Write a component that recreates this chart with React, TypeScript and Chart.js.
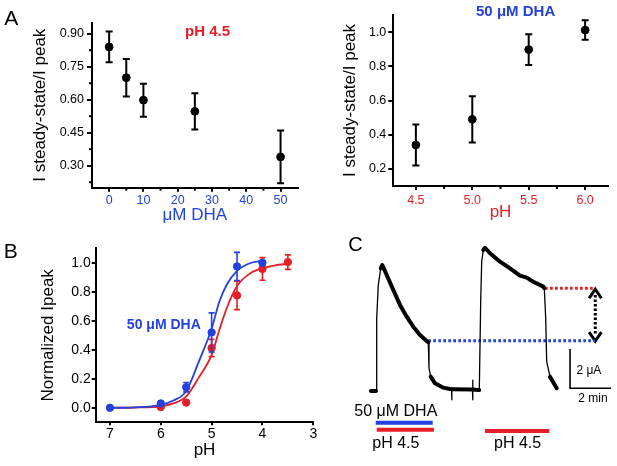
import React, { useEffect, useRef } from 'react';
import { Chart, registerables } from 'chart.js';

Chart.register(...registerables);

const FONT = "'Liberation Sans', Arial, Helvetica, sans-serif";
const BLUE = '#2340e0';
const RED = '#e61e25';
const BLACK = '#000000';

// ---------- Panel A (left): I steady-state / I peak vs DHA at pH 4.5
const DHA_UM = [0, 5, 10, 25, 50];
const RATIO_DHA = [0.84, 0.7, 0.598, 0.547, 0.34];
const RATIO_DHA_SEM = [0.07, 0.085, 0.075, 0.082, 0.12];
const DHA_TICKS = [0, 10, 20, 30, 40, 50];
const DHA_MINOR_TICKS = [5, 15, 25, 35, 45];
const RATIO_DHA_TICKS = [0.3, 0.45, 0.6, 0.75, 0.9];
const RATIO_DHA_MINOR_TICKS = [0.225, 0.375, 0.525, 0.675, 0.825];

// ---------- Panel A (right): I steady-state / I peak vs pH at 50 uM DHA
const PH_VALUES = [4.5, 5.0, 5.5, 6.0];
const RATIO_PH = [0.34, 0.49, 0.898, 1.012];
const RATIO_PH_SEM = [0.12, 0.135, 0.09, 0.057];
const PH_TICKS = [4.5, 5.0, 5.5, 6.0];
const PH_MINOR_TICKS = [4.75, 5.25, 5.75];
const RATIO_PH_TICKS = [0.2, 0.4, 0.6, 0.8, 1.0];

// ---------- Panel B: normalized Ipeak vs pH
const PH_CTRL = [6, 5.5, 5, 4.5, 4, 3.5];
const IPEAK_CTRL = [0.005, 0.036, 0.412, 0.775, 0.958, 1.005];
const IPEAK_CTRL_SEM = [0, 0, 0.06, 0.098, 0.078, 0.05];
const PH_DHA = [7, 6, 5.5, 5, 4.5, 4];
const IPEAK_DHA = [0, 0.03, 0.142, 0.52, 0.975, 1.0];
const IPEAK_DHA_SEM = [0, 0, 0.032, 0.135, 0.097, 0.012];
const FIT_PH_CTRL = [7.0, 6.5, 6.0, 5.75, 5.5, 5.25, 5.0, 4.85, 4.7, 4.5, 4.25, 4.0, 3.75, 3.5];
const FIT_CTRL = [0.0, 0.002, 0.01, 0.03, 0.078, 0.21, 0.365, 0.535, 0.69, 0.84, 0.925, 0.963, 0.983, 0.993];
const FIT_PH_DHA = [7.0, 6.5, 6.0, 5.75, 5.5, 5.25, 5.0, 4.85, 4.7, 4.5, 4.25, 4.0];
const FIT_DHA = [0.0, 0.003, 0.02, 0.05, 0.115, 0.32, 0.545, 0.73, 0.85, 0.945, 0.997, 1.015];
const PH_B_TICKS = [7, 6, 5, 4, 3];
const IPEAK_TICKS = [0, 0.2, 0.4, 0.6, 0.8, 1.0];

// ---------- Panel C: current trace (time in min, current in uA)
const TRACE_MIN = [
  0, 0.244, 0.278, 0.356, 0.473, 0.551, 0.766, 1.088, 1.415, 1.741, 2.063, 2.39, 2.717, 2.795,
  2.829, 2.912, 3.122, 3.527, 3.854, 3.93, 3.94, 3.95, 4.95, 4.955, 4.965, 4.975, 5.234, 5.283,
  5.351, 5.4, 5.478, 5.561, 5.805, 6.293, 6.78, 7.268, 7.595, 7.917, 8.405, 8.454, 8.522, 8.571,
  8.732, 9.059,
];
const TRACE_UA = [
  0, 0, 3.7, 5.39, 6.24, 6.41, 5.9, 5.14, 4.38, 3.78, 3.27, 2.85, 2.54, 2.48,
  1.16, 0.73, 0.39, 0.17, 0.1, 0.09, -0.45, 0.09, 0.07, 0.55, -0.45, 0.07, 0.05, 0.05,
  4.54, 6.58, 7.18, 7.29, 7.01, 6.58, 6.24, 5.87, 5.77, 5.56, 5.31, 5.23, 3.7, 1.49,
  0.73, 0.14,
];
const RED_LEVEL_UA = 5.23;
const RED_LEVEL_START = 8.49;
const BLUE_LEVEL_UA = 2.56;
const BLUE_LEVEL_START = 2.795;
const ARROW_MIN = 10.94;
const ARROW_TOP_UA = 5.18;
const ARROW_BOTTOM_UA = 2.54;
const SCALE_BAR_ORIGIN = { x: 9.71, y: 0.14 };
const SCALE_BAR_MIN = 2;
const SCALE_BAR_UA = 2;
const DHA_BAR = { from: 0.23, to: 3.01, y: -1.61 };
const PH_BAR_1 = { from: 0.28, to: 3.07, y: -1.97 };
const PH_BAR_2 = { from: 5.56, to: 8.7, y: -2.04 };

const pts = (xs: number[], ys: number[]) => xs.map((x, i) => ({ x, y: ys[i] }));

type Note = { x: number; y: number; text: string; color?: string; size: number; weight?: string };

const makeNotes = (items: Note[]) => ({
  id: 'notes',
  afterDraw(chart: any) {
    const ctx = chart.ctx;
    items.forEach((it) => {
      ctx.save();
      ctx.font = `${it.weight || 'normal'} ${it.size}px ${FONT}`;
      ctx.fillStyle = it.color || BLACK;
      ctx.textAlign = 'center';
      ctx.textBaseline = 'middle';
      ctx.fillText(it.text, chart.scales.x.getPixelForValue(it.x), chart.scales.y.getPixelForValue(it.y));
      ctx.restore();
    });
  },
});

const makeMinor = (xs: number[], ys: number[], len = 3) => ({
  id: 'minorTicks',
  afterDraw(chart: any) {
    const ctx = chart.ctx;
    const { left, bottom } = chart.chartArea;
    ctx.save();
    ctx.strokeStyle = BLACK;
    ctx.lineWidth = 2;
    xs.forEach((v) => {
      const px = chart.scales.x.getPixelForValue(v);
      ctx.beginPath();
      ctx.moveTo(px, bottom);
      ctx.lineTo(px, bottom + len);
      ctx.stroke();
    });
    ys.forEach((v) => {
      const py = chart.scales.y.getPixelForValue(v);
      ctx.beginPath();
      ctx.moveTo(left, py);
      ctx.lineTo(left - len, py);
      ctx.stroke();
    });
    ctx.restore();
  },
});

const errorBars = {
  id: 'errorBars',
  beforeDatasetDraw(chart: any, args: any) {
    const ds = chart.data.datasets[args.index];
    if (!ds.errors) return;
    const ctx = chart.ctx;
    const ys = chart.scales.y;
    ctx.save();
    ctx.strokeStyle = ds.borderColor;
    ctx.lineWidth = ds.errorWidth || 2;
    const cap = ds.errorCap || 3.5;
    args.meta.data.forEach((pt: any, i: number) => {
      const e = ds.errors[i];
      if (!e) return;
      const v = ds.data[i].y;
      const top = ys.getPixelForValue(v + e);
      const bot = ys.getPixelForValue(v - e);
      ctx.beginPath();
      ctx.moveTo(pt.x, top);
      ctx.lineTo(pt.x, bot);
      ctx.moveTo(pt.x - cap, top);
      ctx.lineTo(pt.x + cap, top);
      ctx.moveTo(pt.x - cap, bot);
      ctx.lineTo(pt.x + cap, bot);
      ctx.stroke();
    });
    ctx.restore();
  },
};

const font = (size: number, weight = 'normal') => ({ size, family: FONT, weight });

function axisX(o: any) {
  return {
    type: 'linear',
    min: o.min,
    max: o.max,
    reverse: !!o.reverse,
    afterBuildTicks: (s: any) => {
      s.ticks = o.ticks.map((v: number) => ({ value: v }));
    },
    afterFit: (s: any) => {
      s.height = o.height;
    },
    border: { display: true, color: BLACK, width: 2 },
    grid: { display: true, drawOnChartArea: false, drawTicks: true, tickLength: o.tickLength, color: BLACK, lineWidth: 2 },
    ticks: {
      color: o.tickColor || BLACK,
      font: font(o.tickSize),
      padding: o.tickPad,
      maxRotation: 0,
      autoSkip: false,
      callback: o.fmt,
    },
    title: {
      display: true,
      text: o.title,
      color: o.titleColor || BLACK,
      font: font(17),
      padding: { top: 0, bottom: o.titlePad },
    },
  };
}

function axisY(o: any) {
  return {
    type: 'linear',
    min: o.min,
    max: o.max,
    afterBuildTicks: (s: any) => {
      s.ticks = o.ticks.map((v: number) => ({ value: v }));
    },
    afterFit: (s: any) => {
      s.width = o.width;
    },
    border: { display: true, color: BLACK, width: 2 },
    grid: { display: true, drawOnChartArea: false, drawTicks: true, tickLength: o.tickLength, color: BLACK, lineWidth: 2 },
    ticks: { color: BLACK, font: font(o.tickSize), padding: o.tickPad, autoSkip: false, callback: o.fmt },
    title: {
      display: true,
      text: o.title,
      color: BLACK,
      font: font(17),
      padding: { top: o.titlePad, bottom: 0 },
    },
  };
}

const baseOptions = (padding: any, scales: any) => ({
  responsive: false,
  animation: false,
  events: [],
  layout: { padding },
  plugins: { legend: { display: false }, tooltip: { enabled: false } },
  scales,
});

const buildALeft = () => ({
  type: 'scatter',
  data: {
    datasets: [
      {
        data: pts(DHA_UM, RATIO_DHA),
        errors: RATIO_DHA_SEM,
        borderColor: BLACK,
        backgroundColor: BLACK,
        pointRadius: 3.9,
        errorWidth: 2,
        errorCap: 3.5,
      },
    ],
  },
  options: baseOptions(
    { left: 0, top: 22.7, right: 7.3, bottom: 0 },
    {
      x: axisX({
        min: -5, max: 55, ticks: DHA_TICKS, height: 42.3, tickLength: 4, tickColor: BLUE, tickSize: 12.5,
        tickPad: 1.5, fmt: (v: number) => String(v), title: 'μM DHA', titleColor: BLUE, titlePad: 4.8,
      }),
      y: axisY({
        min: 0.2, max: 0.95, ticks: RATIO_DHA_TICKS, width: 92, tickLength: 5, tickSize: 12.5, tickPad: 3,
        fmt: (v: number) => v.toFixed(2), title: 'I steady-state/I peak', titlePad: 30.3,
      }),
    }
  ),
  plugins: [
    errorBars,
    makeMinor(DHA_MINOR_TICKS, RATIO_DHA_MINOR_TICKS),
    makeNotes([{ x: 28.7, y: 0.909, text: 'pH 4.5', color: RED, size: 15, weight: 'bold' }]),
  ],
});

const buildARight = () => ({
  type: 'scatter',
  data: {
    datasets: [
      {
        data: pts(PH_VALUES, RATIO_PH),
        errors: RATIO_PH_SEM,
        borderColor: BLACK,
        backgroundColor: BLACK,
        pointRadius: 3.9,
        errorWidth: 2,
        errorCap: 3.5,
      },
    ],
  },
  options: baseOptions(
    { left: 0, top: 15, right: 9.3, bottom: 0 },
    {
      x: axisX({
        min: 4.3, max: 6.2, ticks: PH_TICKS, height: 44, tickLength: 4, tickColor: RED, tickSize: 12.5,
        tickPad: 3.5, fmt: (v: number) => v.toFixed(1), title: 'pH', titleColor: RED, titlePad: 7.3,
      }),
      y: axisY({
        min: 0.1, max: 1.1, ticks: RATIO_PH_TICKS, width: 88.3, tickLength: 5, tickSize: 12.5, tickPad: 2,
        fmt: (v: number) => v.toFixed(1), title: 'I steady-state/I peak', titlePad: 35.2,
      }),
    }
  ),
  plugins: [
    errorBars,
    makeMinor(PH_MINOR_TICKS, []),
    makeNotes([{ x: 5.384, y: 1.118, text: '50 μM DHA', color: BLUE, size: 15, weight: 'bold' }]),
  ],
});

const buildB = () => ({
  type: 'scatter',
  data: {
    datasets: [
      {
        data: pts(PH_DHA, IPEAK_DHA),
        errors: IPEAK_DHA_SEM,
        borderColor: BLUE,
        backgroundColor: BLUE,
        pointRadius: 3.7,
        errorWidth: 1.6,
        errorCap: 3,
      },
      {
        data: pts(FIT_PH_DHA, FIT_DHA),
        showLine: true,
        pointRadius: 0,
        borderColor: BLUE,
        borderWidth: 1.8,
        cubicInterpolationMode: 'monotone',
      },
      {
        data: pts(PH_CTRL, IPEAK_CTRL),
        errors: IPEAK_CTRL_SEM,
        borderColor: RED,
        backgroundColor: RED,
        pointRadius: 3.7,
        errorWidth: 1.6,
        errorCap: 3,
      },
      {
        data: pts(FIT_PH_CTRL, FIT_CTRL),
        showLine: true,
        pointRadius: 0,
        borderColor: RED,
        borderWidth: 1.8,
        cubicInterpolationMode: 'monotone',
      },
    ],
  },
  options: baseOptions(
    { left: 0, top: 18.3, right: 21.7, bottom: 0 },
    {
      x: axisX({
        min: 3, max: 7.28, reverse: true, ticks: PH_B_TICKS, height: 43.7, tickLength: 3, tickSize: 14,
        tickPad: 0, fmt: (v: number) => String(v), title: 'pH', titlePad: 5.8,
      }),
      y: axisY({
        min: -0.1, max: 1.1, ticks: IPEAK_TICKS, width: 95.7, tickLength: 4, tickSize: 14, tickPad: 1,
        fmt: (v: number) => v.toFixed(1), title: 'Normalized Ipeak', titlePad: 38.6,
      }),
    }
  ),
  plugins: [
    errorBars,
    makeNotes([{ x: 5.94, y: 0.572, text: '50 μM DHA', color: BLUE, size: 14, weight: 'bold' }]),
  ],
});

const line = (data: any[], color: string, width: number, extra: any = {}) => ({
  data,
  showLine: true,
  pointRadius: 0,
  borderColor: color,
  borderWidth: width,
  fill: false,
  tension: 0,
  ...extra,
});

const buildC = () => {
  const chevronW = 0.3;
  const chevronH = 0.46;
  return {
    type: 'scatter',
    data: {
      datasets: [
        line(pts(TRACE_MIN, TRACE_UA), BLACK, 4, {
          borderCapStyle: 'round',
          borderJoinStyle: 'round',
          segment: {
            borderWidth: (c: any) =>
              Math.abs(c.p1.y - c.p0.y) > 2.5 * Math.abs(c.p1.x - c.p0.x) ? 1.3 : 4,
          },
        }),
        line([{ x: RED_LEVEL_START, y: RED_LEVEL_UA }, { x: ARROW_MIN, y: RED_LEVEL_UA }], RED, 3, { borderDash: [2.7, 2.3] }),
        line([{ x: BLUE_LEVEL_START, y: BLUE_LEVEL_UA }, { x: ARROW_MIN, y: BLUE_LEVEL_UA }], BLUE, 3, { borderDash: [2.7, 2.3] }),
        line(
          [{ x: ARROW_MIN, y: ARROW_TOP_UA - 0.3 }, { x: ARROW_MIN, y: ARROW_BOTTOM_UA + 0.3 }],
          BLACK, 3, { borderDash: [2.5, 2] }
        ),
        line(
          [
            { x: ARROW_MIN - chevronW, y: ARROW_TOP_UA - chevronH },
            { x: ARROW_MIN, y: ARROW_TOP_UA },
            { x: ARROW_MIN + chevronW, y: ARROW_TOP_UA - chevronH },
          ],
          BLACK, 3, { borderJoinStyle: 'miter' }
        ),
        line(
          [
            { x: ARROW_MIN - chevronW, y: ARROW_BOTTOM_UA + chevronH },
            { x: ARROW_MIN, y: ARROW_BOTTOM_UA },
            { x: ARROW_MIN + chevronW, y: ARROW_BOTTOM_UA + chevronH },
          ],
          BLACK, 3, { borderJoinStyle: 'miter' }
        ),
        line(
          [
            { x: SCALE_BAR_ORIGIN.x, y: SCALE_BAR_ORIGIN.y + SCALE_BAR_UA },
            SCALE_BAR_ORIGIN,
            { x: SCALE_BAR_ORIGIN.x + SCALE_BAR_MIN, y: SCALE_BAR_ORIGIN.y },
          ],
          BLACK, 1.6, { borderJoinStyle: 'miter' }
        ),
        line([{ x: DHA_BAR.from, y: DHA_BAR.y }, { x: DHA_BAR.to, y: DHA_BAR.y }], BLUE, 4),
        line([{ x: PH_BAR_1.from, y: PH_BAR_1.y }, { x: PH_BAR_1.to, y: PH_BAR_1.y }], RED, 4),
        line([{ x: PH_BAR_2.from, y: PH_BAR_2.y }, { x: PH_BAR_2.to, y: PH_BAR_2.y }], RED, 4),
      ],
    },
    options: baseOptions(
      { left: 0, top: 0, right: 0, bottom: 0 },
      {
        x: { type: 'linear', display: false, min: -1.756, max: 12.0 },
        y: { type: 'linear', display: false, min: -3.817, max: 8.193 },
      }
    ),
    plugins: [
      makeNotes([
        { x: 1.21, y: -1.05, text: '50 μM DHA', size: 16 },
        { x: 1.21, y: -2.69, text: 'pH 4.5', size: 16 },
        { x: 7.15, y: -2.69, text: 'pH 4.5', size: 16 },
        { x: 10.63, y: 1.03, text: '2 μA', size: 12 },
        { x: 10.83, y: -0.37, text: '2 min', size: 12 },
      ]),
    ],
  };
};

function ChartCanvas({ left, top, width, height, build }: any) {
  const ref = useRef<HTMLCanvasElement>(null);
  useEffect(() => {
    const chart = new Chart(ref.current as HTMLCanvasElement, build() as any);
    return () => chart.destroy();
  }, []);
  return (
    <canvas
      ref={ref}
      width={width}
      height={height}
      style={{ position: 'absolute', left, top, width, height }}
    />
  );
}

const letterStyle = (left: number, top: number, size: number): React.CSSProperties => ({
  position: 'absolute',
  left,
  top,
  fontSize: size,
  lineHeight: `${size}px`,
  fontFamily: FONT,
  color: BLACK,
});

export default function App() {
  useEffect(() => {
    document.body.style.margin = '0';
    document.body.style.background = '#ffffff';
  }, []);
  return (
    <div style={{ position: 'relative', width: 617, height: 466, background: '#fff', overflow: 'hidden' }}>
      <ChartCanvas left={0} top={0} width={305} height={230} build={buildALeft} />
      <ChartCanvas left={305} top={0} width={312} height={230} build={buildARight} />
      <ChartCanvas left={0} top={230} width={335} height={236} build={buildB} />
      <ChartCanvas left={335} top={230} width={282} height={236} build={buildC} />
      <div style={letterStyle(4.2, 6.9, 21)}>A</div>
      <div style={letterStyle(3.8, 240.2, 21)}>B</div>
      <div style={letterStyle(348.3, 233.5, 20)}>C</div>
    </div>
  );
}
